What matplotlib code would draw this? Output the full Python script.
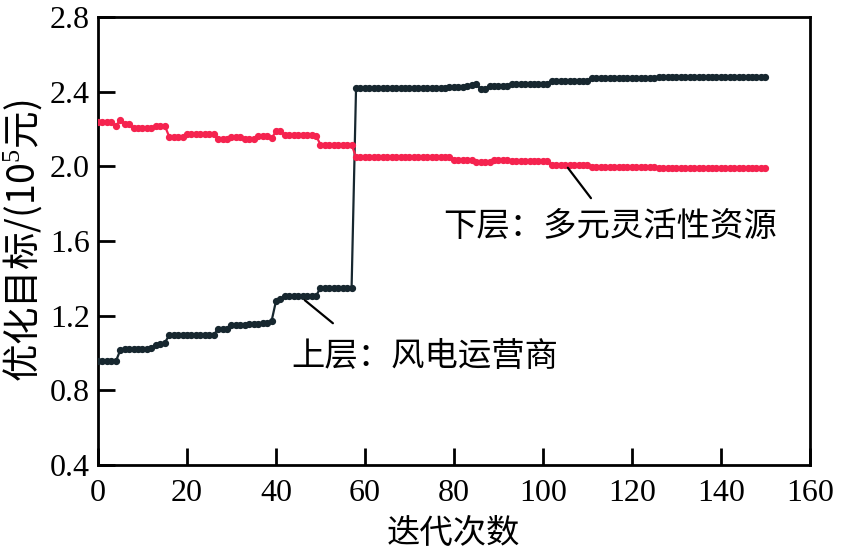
import matplotlib
matplotlib.use("Agg")
import matplotlib.pyplot as plt
import numpy as np

plt.rcParams['font.family'] = ['Liberation Serif', 'Noto Sans CJK SC', 'DejaVu Sans']
plt.rcParams['mathtext.fontset'] = 'custom'
plt.rcParams['mathtext.rm'] = 'Liberation Serif'

iterations = list(range(0, 151))

# 上层：风电运营商 (upper layer objective), read per iteration
upper = [
    0.955, 0.955, 0.955, 0.955, 0.955, 1.015, 1.02, 1.02, 1.02, 1.02,
    1.02, 1.022, 1.025, 1.045, 1.05, 1.055, 1.095, 1.095, 1.095, 1.095,
    1.095, 1.095, 1.095, 1.097, 1.097, 1.097, 1.097, 1.13, 1.13, 1.13,
    1.153, 1.153, 1.153, 1.153, 1.155, 1.155, 1.157, 1.16, 1.162, 1.17,
    1.278, 1.29, 1.305, 1.305, 1.305, 1.305, 1.305, 1.305, 1.305, 1.305,
    1.35, 1.35, 1.35, 1.35, 1.35, 1.35, 1.35, 1.35, 2.419, 2.419,
    2.419, 2.419, 2.419, 2.419, 2.419, 2.419, 2.419, 2.419, 2.419, 2.419,
    2.419, 2.419, 2.42, 2.42, 2.42, 2.42, 2.42, 2.42, 2.42, 2.428,
    2.428, 2.428, 2.428, 2.43, 2.435, 2.443, 2.415, 2.413, 2.43, 2.43,
    2.43, 2.43, 2.432, 2.443, 2.443, 2.443, 2.443, 2.443, 2.443, 2.443,
    2.443, 2.443, 2.46, 2.46, 2.46, 2.46, 2.46, 2.46, 2.46, 2.46,
    2.46, 2.472, 2.472, 2.472, 2.472, 2.472, 2.472, 2.472, 2.472, 2.472,
    2.472, 2.472, 2.472, 2.472, 2.472, 2.472, 2.478, 2.478, 2.478, 2.478,
    2.478, 2.478, 2.478, 2.478, 2.478, 2.478, 2.478, 2.478, 2.478, 2.478,
    2.478, 2.478, 2.478, 2.478, 2.478, 2.478, 2.478, 2.478, 2.478, 2.478,
    2.478,
]

# 下层：多元灵活性资源 (lower layer objective), read per iteration
lower = [
    2.237, 2.237, 2.237, 2.237, 2.215, 2.25, 2.228, 2.228, 2.204, 2.204,
    2.204, 2.204, 2.204, 2.219, 2.219, 2.219, 2.16, 2.16, 2.16, 2.16,
    2.174, 2.174, 2.174, 2.174, 2.174, 2.174, 2.174, 2.147, 2.147, 2.147,
    2.156, 2.156, 2.156, 2.147, 2.147, 2.147, 2.165, 2.165, 2.165, 2.15,
    2.188, 2.188, 2.169, 2.169, 2.169, 2.169, 2.169, 2.169, 2.169, 2.165,
    2.117, 2.117, 2.117, 2.117, 2.117, 2.117, 2.117, 2.117, 2.05, 2.05,
    2.05, 2.05, 2.05, 2.05, 2.05, 2.05, 2.05, 2.05, 2.05, 2.05,
    2.05, 2.05, 2.05, 2.05, 2.05, 2.05, 2.05, 2.05, 2.048, 2.048,
    2.034, 2.034, 2.034, 2.034, 2.034, 2.025, 2.025, 2.025, 2.025, 2.034,
    2.034, 2.034, 2.034, 2.027, 2.027, 2.027, 2.027, 2.027, 2.027, 2.027,
    2.027, 2.027, 2.006, 2.006, 2.006, 2.006, 2.006, 2.006, 2.006, 2.006,
    2.006, 1.996, 1.996, 1.996, 1.996, 1.996, 1.996, 1.996, 1.996, 1.996,
    1.996, 1.996, 1.996, 1.996, 1.996, 1.996, 1.992, 1.992, 1.992, 1.992,
    1.992, 1.992, 1.992, 1.992, 1.992, 1.992, 1.992, 1.992, 1.992, 1.992,
    1.992, 1.992, 1.992, 1.992, 1.992, 1.992, 1.992, 1.992, 1.992, 1.992,
    1.992,
]

x_ticks = [0, 20, 40, 60, 80, 100, 120, 140, 160]
y_ticks = [0.4, 0.8, 1.2, 1.6, 2.0, 2.4, 2.8]

upper_label = "上层：风电运营商"
lower_label = "下层：多元灵活性资源"
x_label = "迭代次数"
y_label = "优化目标/(10$^5$元)"

dark = "#17272f"
red = "#f5234f"

fig = plt.figure(figsize=(8.41, 5.53), dpi=100)
ax = fig.add_axes([0.1165, 0.159, 0.963 - 0.1165, 0.969 - 0.159])

ax.plot(iterations, upper, color=dark, lw=1.6, marker='o', ms=4.2, zorder=3)
ax.plot(iterations, lower, color=red, lw=1.6, marker='o', ms=4.2, zorder=3)

ax.set_xlim(0, 160)
ax.set_ylim(0.4, 2.8)
ax.set_xticks(x_ticks)
ax.set_yticks(y_ticks)
ax.set_xticklabels([str(v) for v in x_ticks])
ax.set_yticklabels([f"{v:.1f}" for v in y_ticks])
ax.tick_params(direction='in', length=12, width=2, labelsize=23)
ax.tick_params(axis='x', pad=10)
ax.tick_params(axis='y', pad=6)
for s in ax.spines.values():
    s.set_linewidth(2)

ax.set_xlabel(x_label, fontsize=24, labelpad=6, family=['Noto Sans CJK SC'])
ax.set_ylabel(y_label, fontsize=27, labelpad=4, family=['Noto Sans CJK SC', 'Liberation Serif'])

ax.annotate('', xy=(105.6, 1.993), xytext=(110.8, 1.83),
            arrowprops=dict(arrowstyle='-', color='black', lw=1.6,
                            shrinkA=0, shrinkB=0))
ax.text(115, 1.676, lower_label, fontsize=24, ha='center', va='center',
        family=['Noto Sans CJK SC'])
ax.annotate('', xy=(46.5, 1.283), xytext=(52.8, 1.16),
            arrowprops=dict(arrowstyle='-', color='black', lw=1.6,
                            shrinkA=0, shrinkB=0))
ax.text(73.5, 0.982, upper_label, fontsize=24, ha='center', va='center',
        family=['Noto Sans CJK SC'])

fig.savefig("out.png", dpi=100)
